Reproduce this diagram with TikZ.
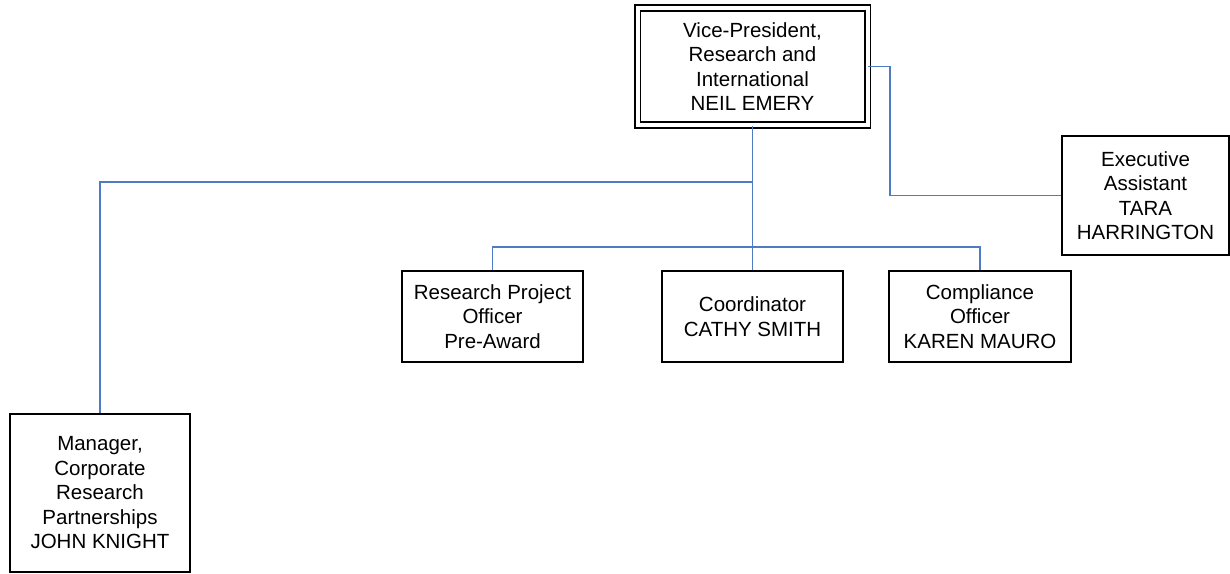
\documentclass[tikz,border=0pt]{standalone}
\usepackage{fontspec}
\setmainfont{Liberation Sans}
\begin{document}
\begin{tikzpicture}[x=1pt,y=-1pt,
  box/.style={draw=black, line width=1.7pt, inner sep=0pt, align=center,
    font=\fontsize{20.5}{24.5}\selectfont},
  conn/.style={draw=linkblue, line width=1.8pt}]
\definecolor{linkblue}{HTML}{4F7BC4}
\useasboundingbox (0,0) rectangle (1230,573);
\node[box, double=white, double distance=4pt, minimum width=230pt, minimum height=117pt] (vp) at (752.5,66.5)
  {Vice-President,\\Research and\\International\\NEIL EMERY};
\node[box, minimum width=167pt, minimum height=119pt] (ea) at (1145.5,195.5)
  {Executive\\Assistant\\TARA\\HARRINGTON};
\node[box, minimum width=181pt, minimum height=91pt] (rpo) at (492.5,316.5)
  {Research Project\\Officer\\Pre-Award};
\node[box, minimum width=181pt, minimum height=91pt] (coord) at (752.5,316.5)
  {Coordinator\\CATHY SMITH};
\node[box, minimum width=182pt, minimum height=91pt] (comp) at (980,316.5)
  {Compliance\\Officer\\KAREN MAURO};
\node[box, minimum width=180pt, minimum height=158pt] (mgr) at (100,493)
  {Manager,\\Corporate\\Research\\Partnerships\\JOHN KNIGHT};
\coordinate (j1) at (752.5,182);
\draw[conn] (vp.south) -- (coord.north);
\draw[conn] (j1) -| (mgr.north);
\draw[conn] (rpo.north) -- ++(0,-23) -| (comp.north);
\draw[conn] (vp.east) -- ++(22,0) |- (ea.west);
\end{tikzpicture}
\end{document}
